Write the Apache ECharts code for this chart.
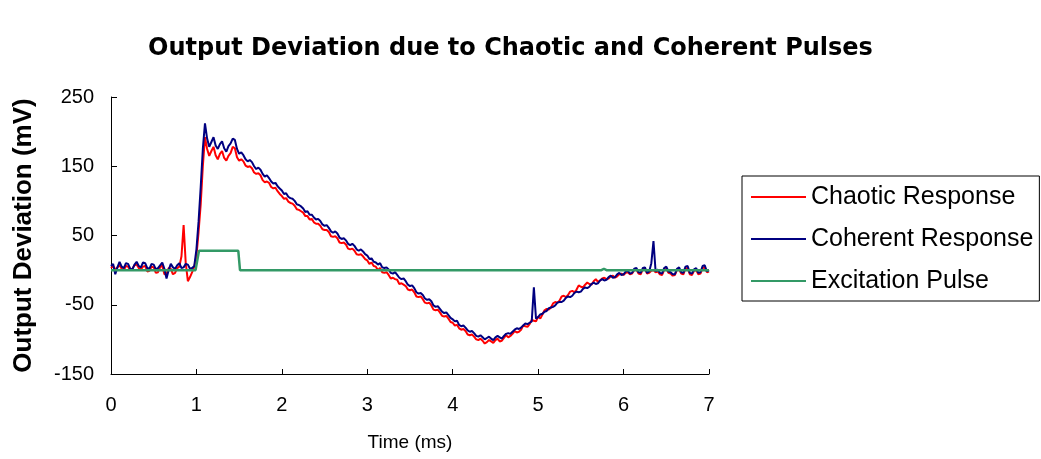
<!DOCTYPE html>
<html><head><meta charset="utf-8">
<script src="https://cdn.jsdelivr.net/npm/echarts@6/dist/echarts.min.js"></script>
<style>html,body{margin:0;padding:0;background:#fff}#c{width:1041px;height:459px}</style>
</head><body><div id="c"></div>
<script>
// sample grid of the two recorded responses (ms)
const timeStep = 0.025;
// Chaotic Response (mV), one value per 0.025 ms from 0 to 7 ms (one line = 0.25 ms)
const chaoticResponse = [
  3, 6, 1, 4, 7, 2, 0, 6, 5, 0,
  2, 7, 8, 3, 1, 5, 6, -2, -1, 5,
  4, -4, -3, 4, 7, -6, -5, 3, 2, -6,
  -4, 3, 5, 20, 65, 10, -16, -10, -3, 5,
  20, 55, 95, 150, 192, 175, 165, 172, 178, 166,
  160, 168, 172, 162, 158, 165, 169, 178, 176, 163,
  158, 160, 157, 151, 149, 150, 147, 141, 139, 140,
  137, 130, 127, 128, 126, 120, 118, 119, 114, 110,
  107, 103, 104, 99, 97, 96, 93, 88, 87, 85,
  83, 78, 78, 73, 74, 69, 67, 67, 64, 59,
  58, 58, 55, 49, 48, 49, 46, 40, 39, 40,
  37, 31, 30, 31, 28, 23, 22, 23, 20, 16,
  14, 9, 11, 6, 5, 0, 3, -3, -4, -3,
  -7, -12, -11, -13, -14, -20, -19, -21, -23, -28,
  -29, -28, -32, -38, -39, -38, -42, -47, -48, -47,
  -51, -57, -58, -57, -61, -66, -67, -66, -70, -75,
  -76, -80, -79, -84, -86, -85, -88, -93, -94, -93,
  -96, -100, -101, -99, -102, -106, -104, -101, -103, -105,
  -101, -99, -103, -102, -98, -94, -97, -95, -92, -88,
  -90, -89, -86, -80, -81, -82, -78, -72, -73, -74,
  -67, -70, -64, -58, -56, -57, -54, -48, -46, -47,
  -44, -38, -37, -39, -36, -31, -30, -32, -28, -22,
  -24, -25, -21, -18, -20, -21, -16, -13, -17, -15,
  -12, -11, -13, -12, -9, -8, -11, -9, -6, -5,
  -7, -4, -3, -6, -5, 0, 1, -5, -6, 1,
  2, -5, -4, -1, 0, -3, -2, -6, -7, 0,
  2, -4, -5, -8, -7, 0, 1, -5, -6, 2,
  3, -6, -7, -1, 0, -6, -5, 3, 4, -3,
  -2
];
// Coherent Response (mV)
const coherentResponse = [
  6, 9, -6, 4, 12, 5, 3, 10, 9, 2,
  1, 8, 12, 6, 4, 11, 10, 3, 2, 9,
  8, 1, 3, 7, 11, 2, -12, 0, 9, 4,
  2, 7, 10, 3, 4, 9, 8, 2, 3, 6,
  30, 70, 120, 175, 212, 190, 178, 185, 192, 180,
  175, 182, 186, 176, 171, 179, 183, 190, 188, 175,
  168, 170, 166, 160, 157, 159, 156, 150, 146, 148,
  145, 139, 135, 137, 133, 128, 125, 126, 121, 118,
  115, 110, 111, 106, 104, 103, 100, 95, 94, 92,
  89, 84, 85, 80, 80, 76, 73, 74, 71, 66,
  64, 65, 61, 56, 54, 56, 53, 47, 45, 46,
  43, 38, 36, 38, 35, 30, 28, 30, 27, 23,
  21, 16, 17, 12, 11, 8, 10, 4, 3, 4,
  1, -4, -5, -3, -7, -11, -13, -12, -16, -21,
  -23, -22, -26, -32, -34, -33, -36, -41, -43, -42,
  -45, -51, -53, -52, -56, -60, -62, -61, -65, -69,
  -71, -74, -73, -79, -81, -80, -83, -87, -89, -88,
  -91, -95, -96, -94, -97, -100, -98, -96, -99, -101,
  -97, -95, -97, -99, -95, -92, -91, -92, -89, -86,
  -84, -85, -83, -80, -77, -78, -76, -74, -25, -70,
  -68, -64, -63, -60, -59, -55, -54, -53, -51, -47,
  -46, -46, -44, -40, -38, -39, -37, -33, -31, -32,
  -31, -27, -25, -26, -24, -20, -18, -20, -19, -15,
  -13, -15, -14, -10, -8, -11, -10, -6, -4, -7,
  -6, -2, -1, -5, -4, 2, 3, -3, -4, 3,
  4, -4, -2, 10, 42, -2, 1, -4, -5, 3,
  5, -2, -3, -6, -6, 2, 4, -3, -4, 5,
  6, -4, -5, 1, 3, -4, -3, 6, 7, -2,
  0
];
// Excitation Pulse (mV)
const excitationTimes = [0, 0.99, 1.03, 1.49, 1.51, 5.74, 5.77, 5.80, 7];
const excitationValues = [0, 0, 28, 28, 0, 0, 2, 0, 0];

const seriesNames = ['Chaotic Response', 'Coherent Response', 'Excitation Pulse'];
const xTickValues = [0, 1, 2, 3, 4, 5, 6, 7];
const yTickValues = [-150, -50, 50, 150, 250];

const FONT = 'Liberation Sans, Arial, sans-serif';
const toPairs = arr => arr.map((v, i) => [+(i * timeStep).toFixed(3), v]);

const chart = echarts.init(document.getElementById('c'), null, {renderer: 'canvas'});
chart.setOption({
  animation: false,
  backgroundColor: '#ffffff',
  title: {
    text: 'Output Deviation due to Chaotic and Coherent Pulses',
    left: 148, top: 37, padding: 0,
    textStyle: {fontFamily: 'DejaVu Sans, sans-serif', fontWeight: 'bold', fontSize: 24, color: '#000'}
  },
  legend: {
    orient: 'vertical', left: 742, top: 176,
    data: seriesNames,
    icon: 'rect',
    itemWidth: 55, itemHeight: 2, itemGap: 12,
    padding: [6, 6, 5, 9],
    borderColor: '#000', borderWidth: 1,
    textStyle: {fontFamily: FONT, fontSize: 25, color: '#000', lineHeight: 30}
  },
  grid: {left: 111, right: 332, top: 97, bottom: 85},
  xAxis: {
    type: 'value', min: 0, max: 7, interval: 1,
    name: 'Time (ms)', nameLocation: 'middle', nameGap: 59,
    nameTextStyle: {fontFamily: FONT, fontSize: 19, color: '#000'},
    axisLine: {show: true, onZero: false, lineStyle: {color: '#000', width: 1}},
    axisTick: {show: true, inside: true, length: 5, lineStyle: {color: '#000'}},
    axisLabel: {fontFamily: FONT, fontSize: 20, color: '#000', margin: 21, customValues: xTickValues},
    splitLine: {show: false}
  },
  yAxis: {
    type: 'value', min: -150, max: 250,
    name: 'Output Deviation (mV)', nameLocation: 'middle', nameGap: 74,
    nameTextStyle: {fontFamily: FONT, fontSize: 26, fontWeight: 'bold', color: '#000'},
    axisLine: {show: true, lineStyle: {color: '#000', width: 1}},
    axisTick: {show: true, inside: true, length: 6, lineStyle: {color: '#000'}, customValues: yTickValues},
    axisLabel: {fontFamily: FONT, fontSize: 20, color: '#000', margin: 17, customValues: yTickValues},
    splitLine: {show: false}
  },
  series: [
    {
      name: seriesNames[0], type: 'line', showSymbol: false, symbol: 'none',
      data: toPairs(chaoticResponse),
      lineStyle: {color: '#ff0000', width: 2}, itemStyle: {color: '#ff0000'}
    },
    {
      name: seriesNames[1], type: 'line', showSymbol: false, symbol: 'none',
      data: toPairs(coherentResponse),
      lineStyle: {color: '#000080', width: 2}, itemStyle: {color: '#000080'}
    },
    {
      name: seriesNames[2], type: 'line', showSymbol: false, symbol: 'none',
      data: excitationTimes.map((t, i) => [t, excitationValues[i]]),
      lineStyle: {color: '#339966', width: 2.5}, itemStyle: {color: '#339966'}
    }
  ]
});
</script>
</body></html>
